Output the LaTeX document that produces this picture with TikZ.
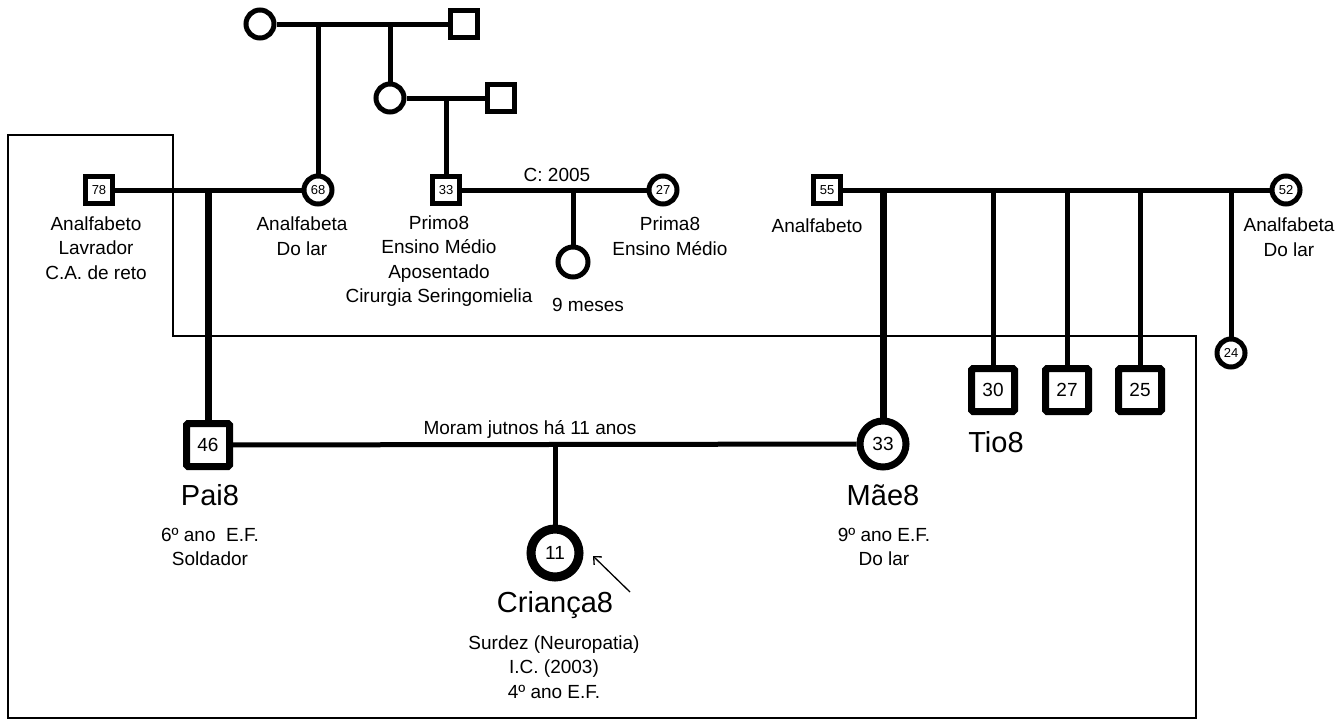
\documentclass[tikz,border=0pt]{standalone}
\usepackage{fontspec}
\setmainfont{Liberation Sans}
\usetikzlibrary{arrows.meta}
\begin{document}
\begin{tikzpicture}[x=1pt,y=-1pt,
  rel/.style={line width=5pt},
  relthick/.style={line width=7pt},
  frameline/.style={line width=1.3pt},
  sqS/.style={draw, line width=5pt, minimum size=27pt, inner sep=0pt,
    font=\fontsize{13}{13}\selectfont},
  ciS/.style={circle, draw, line width=5pt, minimum size=28pt, inner sep=0pt,
    font=\fontsize{13}{13}\selectfont},
  sqB/.style={draw, line width=7pt, minimum size=43pt, inner sep=0pt,
    rounded corners=1.5pt, font=\fontsize{19}{19}\selectfont},
  ciB/.style={circle, draw, line width=7pt, minimum size=46pt, inner sep=0pt,
    font=\fontsize{19}{19}\selectfont},
  info/.style={align=center, inner sep=0pt, font=\fontsize{19}{24.5}\selectfont},
  pname/.style={inner sep=0pt, font=\fontsize{29}{29}\selectfont},
]
\useasboundingbox (0,0) rectangle (1344,720);

% household frame
\draw[frameline] (8,135) -- (173,135) -- (173,336) -- (1196,336)
  -- (1196,718) -- (8,718) -- cycle;

% people
\node[ciS] (ggm) at (260,24) {};
\node[sqS] (ggf) at (464,24) {};
\node[ciS] (gm2) at (390,98) {};
\node[sqS] (gf2) at (501,98) {};
\node[sqS] (pgf) at (99,190) {78};
\node[ciS] (pgm) at (318,190) {68};
\node[sqS] (primo) at (446,190) {33};
\node[ciS] (prima) at (663,190) {27};
\node[ciS, minimum size=30pt] (baby) at (573,262) {};
\node[sqS] (mgf) at (827,190) {55};
\node[ciS] (mgm) at (1286,190) {52};
\node[ciS] (aunt) at (1231,353) {24};
\node[sqB] (u30) at (993,390) {30};
\node[sqB] (u27) at (1067,390) {27};
\node[sqB] (u25) at (1140,390) {25};
\node[sqB] (pai) at (208,445) {46};
\node[ciB] (mae) at (883,444) {33};
\node[ciB, line width=9pt, minimum size=48pt] (kid) at (555,553) {11};

% branching points on the couple lines
\coordinate (j1) at (318,24);
\coordinate (j2) at (390,24);
\coordinate (j3) at (446,98);
\coordinate (j4) at (208,190);
\coordinate (j5) at (573,190);
\coordinate (j6) at (883,190);
\coordinate (j7) at (993,190);
\coordinate (j8) at (1067,190);
\coordinate (j9) at (1140,190);
\coordinate (j10) at (1231,190);
\coordinate (j11) at (555,445);

% couples
\draw[rel] (ggm) -- (ggf);
\draw[rel] (gm2) -- (gf2);
\draw[rel] (pgf) -- (pgm);
\draw[rel] (primo) -- (prima);
\draw[rel] (mgf) -- (mgm);
\draw[rel] (pai) -- (mae);

% descent lines
\draw[rel] (j1) -- (pgm);
\draw[rel] (j2) -- (gm2);
\draw[rel] (j3) -- (primo);
\draw[relthick] (j4) -- (pai);
\draw[rel] (j5) -- (baby);
\draw[relthick] (j6) -- (mae);
\draw[rel] (j7) -- (u30);
\draw[rel] (j8) -- (u27);
\draw[rel] (j9) -- (u25);
\draw[rel] (j10) -- (aunt);
\draw[rel] (j11) -- (kid);

% index arrow
\coordinate (ptrtail) at (630,592);
\coordinate (ptrtip) at (593,556);
\draw[line width=1.3pt, -{Straight Barb[length=6pt,width=11pt]}] (ptrtail) -- (ptrtip);

% labels
\node[info] (t78) at (96,248) {Analfabeto\\Lavrador\\C.A. de reto};
\node[info] (t68) at (302,236) {Analfabeta\\Do lar};
\node[info] (tprimo) at (439,261) {Primo8\\Ensino Médio\\Aposentado\\Cirurgia Seringomielia};
\node[info] (tcasam) at (557,175) {C: 2005};
\node[info] (tprima) at (670,236) {Prima8\\Ensino Médio};
\node[info] (tbaby) at (588,305) {9 meses};
\node[info] (t55) at (817,226) {Analfabeto};
\node[info] (t52) at (1289,237) {Analfabeta\\Do lar};
\node[info] (tuniao) at (530,429) {Moram jutnos há 11 anos};
\node[pname] (npai) at (210,495) {Pai8};
\node[info] (tpai) at (210,547) {6º ano~ E.F.\\Soldador};
\node[pname] (nkid) at (555,605) {Criança8};
\node[info] (tkid) at (554,667) {Surdez (Neuropatia)\\I.C. (2003)\\4º ano E.F.};
\node[pname] (nmae) at (883,495) {Mãe8};
\node[info] (tmae) at (884,547) {9º ano E.F.\\Do lar};
\node[pname] (ntio) at (996,442) {Tio8};
\end{tikzpicture}
\end{document}
